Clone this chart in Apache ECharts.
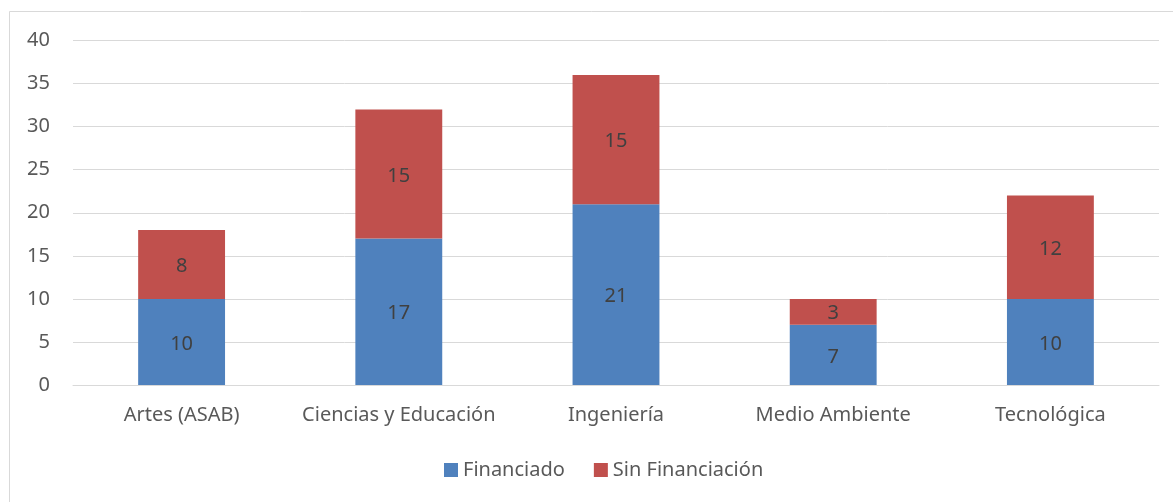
<!DOCTYPE html>
<html><head><meta charset="utf-8">
<script src="https://cdn.jsdelivr.net/npm/echarts@6/dist/echarts.min.js"></script>
<style>html,body{margin:0;padding:0;background:#fff}#c{width:1173px;height:502px}</style>
</head><body><div id="c"></div>
<script>
const categories = ['Artes (ASAB)', 'Ciencias y Educación', 'Ingeniería', 'Medio Ambiente', 'Tecnológica'];
const financiado = [10, 17, 21, 7, 10];
const sinFinanciacion = [8, 15, 15, 3, 12];
const yTicks = [0, 5, 10, 15, 20, 25, 30, 35, 40];

const font = 'Noto Sans';
const fs = 20;
const chart = echarts.init(document.getElementById('c'), null, {renderer: 'canvas'});
chart.setOption({
  animation: false,
  backgroundColor: '#fff',
  graphic: [{
    type: 'polyline', silent: true,
    shape: {points: [[9.5, 510], [9.5, 11.5], [1180, 11.5]]},
    style: {stroke: '#d9d9d9', lineWidth: 1, fill: null}
  }],
  grid: {left: 73, right: 14, top: 40.5, bottom: 117, containLabel: false},
  legend: {
    top: 455, left: 439, itemWidth: 14, itemHeight: 14, itemGap: 29,
    icon: 'rect',
    textStyle: {fontFamily: font, fontSize: fs, color: '#595959'},
    data: ['Financiado', 'Sin Financiación']
  },
  xAxis: {
    type: 'category', data: categories,
    axisLine: {show: true, lineStyle: {color: '#d9d9d9', width: 1}},
    axisTick: {show: false},
    axisLabel: {interval: 0, fontFamily: font, fontSize: fs, color: '#595959', margin: 20}
  },
  yAxis: {
    type: 'value', min: yTicks[0], max: yTicks[yTicks.length - 1], interval: 5,
    axisLine: {show: false}, axisTick: {show: false},
    splitLine: {lineStyle: {color: '#d9d9d9', width: 1}},
    axisLabel: {fontFamily: font, fontSize: fs, color: '#595959', margin: 23}
  },
  series: [
    {name: 'Financiado', type: 'bar', stack: 't', data: financiado, barWidth: '40%',
     itemStyle: {color: '#4f81bd'},
     label: {show: true, position: 'inside', offset: [0, 2], fontFamily: font, fontSize: fs, color: '#404040'}},
    {name: 'Sin Financiación', type: 'bar', stack: 't', data: sinFinanciacion, barWidth: '40%',
     itemStyle: {color: '#c0504d'},
     label: {show: true, position: 'inside', offset: [0, 2], fontFamily: font, fontSize: fs, color: '#404040'}}
  ]
});
</script></body></html>
